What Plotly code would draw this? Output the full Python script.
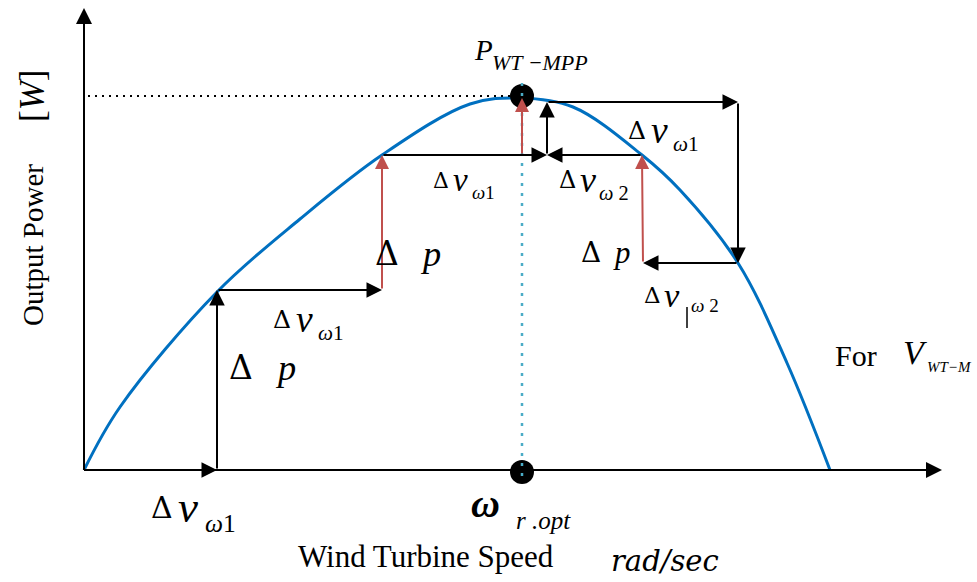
import plotly.graph_objects as go

# ---- data (origin at the axes corner; x = turbine speed, y = output power) ----
speed = [0, 36, 133, 216, 298, 386, 436, 489, 558, 596, 654, 703, 746]
power = [0, 63, 178, 251, 315, 366, 372, 363, 315, 280, 207, 107, 0]

w_opt = 438      # optimal rotor speed
p_mpp = 374      # maximum power point

# perturb & observe steps: (x0, y0) -> (x1, y1)
step_x0 = [133, 0, 133, 298, 298, 558, 438, 463, 463, 654, 654, 559]
step_y0 = [0, 0, 180, 180, 315, 315, 315, 315, 368, 368, 207, 207]
step_x1 = [133, 133, 298, 298, 463, 463, 438, 463, 654, 654, 559, 558]
step_y1 = [180, 0, 180, 315, 315, 315, 372, 368, 368, 207, 207, 315]
step_red = [False, False, False, True, False, False, True, False, False, False, False, True]

x_axis_end = 858
y_axis_end = 462

BLUE = "#0070C0"
RED = "#C0504D"
CYAN = "#4BACC6"
SERIF = "Liberation Serif"
WIDE = "DejaVu Serif"


def X(px):
    return px - 84


def Y(py):
    return 470 - py


fig = go.Figure()

# axes
fig.add_shape(type="line", x0=0, y0=0, x1=0, y1=y_axis_end - 10,
              line=dict(color="black", width=2))
fig.add_shape(type="line", x0=0, y0=0, x1=x_axis_end - 10, y1=0,
              line=dict(color="black", width=2))

# guides
fig.add_shape(type="line", x0=4, y0=p_mpp, x1=w_opt - 10, y1=p_mpp,
              line=dict(color="black", width=2, dash="2px,5px"))
fig.add_shape(type="line", x0=w_opt, y0=-6, x1=w_opt, y1=p_mpp + 13,
              line=dict(color=CYAN, width=2.5, dash="3px,7px"))

# power curve
fig.add_trace(go.Scatter(x=speed, y=power, mode="lines",
                         line=dict(color=BLUE, width=3, shape="spline", smoothing=1.0),
                         hoverinfo="skip", showlegend=False))

# MPP markers
fig.add_trace(go.Scatter(x=[w_opt, w_opt], y=[p_mpp, -2], mode="markers",
                         marker=dict(color="black", size=24),
                         hoverinfo="skip", showlegend=False))

annotations = []

# axis arrowheads
annotations.append(dict(x=0, y=y_axis_end, ax=0, ay=y_axis_end - 30, xref="x", yref="y",
                        axref="x", ayref="y", text="", showarrow=True, arrowhead=2,
                        arrowsize=1.6, arrowwidth=2, arrowcolor="black"))
annotations.append(dict(x=x_axis_end, y=0, ax=x_axis_end - 30, ay=0, xref="x", yref="y",
                        axref="x", ayref="y", text="", showarrow=True, arrowhead=2,
                        arrowsize=1.6, arrowwidth=2, arrowcolor="black"))

# step arrows
for x0, y0, x1, y1, red in zip(step_x0, step_y0, step_x1, step_y1, step_red):
    annotations.append(dict(x=x1, y=y1, ax=x0, ay=y0, xref="x", yref="y",
                            axref="x", ayref="y", text="", showarrow=True,
                            arrowhead=2, arrowsize=1.55 if not red else 1.4,
                            arrowwidth=2, arrowcolor=RED if red else "black"))


def txt(px, py, text, size, italic=False, angle=0, bold=False, family=SERIF):
    t = text
    if italic:
        t = "<i>" + t + "</i>"
    if bold:
        t = "<b>" + t + "</b>"
    annotations.append(dict(x=X(px), y=Y(py), xref="x", yref="y", text=t,
                            showarrow=False, xanchor="center", yanchor="middle",
                            textangle=angle,
                            font=dict(family=family, size=size, color="black")))


def dv(px, py, sub, s):
    # Δ v_sub label; px,py = centre of the Δ glyph, s = Δ size
    txt(px, py, "Δ", s, family=WIDE)
    txt(px + 0.88 * s, py, "v", s * 1.5, italic=True)
    if sub:
        txt(px + 1.95 * s, py + 0.55 * s, sub, s * 0.85)


def dp(px, py, pxp, s):
    txt(px, py, "Δ", s, family=WIDE)
    txt(pxp, py + 1, "p", s * 1.1, italic=True)


# labels
txt(483, 50, "P", 29, italic=True)
txt(540, 62, "WT −MPP", 22, italic=True)
txt(33, 245, "Output Power", 29, angle=-90)
txt(32, 96, "[<i>W</i>]", 35, angle=-90)

dp(241, 367, 285, 33)
dp(387, 253, 430, 33)
dp(591, 252, 621, 28)

dv(162, 507, "<i>ω</i>1", 30)
dv(282, 319, "<i>ω</i>1", 25)
dv(441, 180, "<i>ω</i>1", 22)
dv(567, 180, "<i>ω</i> 2", 24)
dv(637, 130, "<i>ω</i>1", 25)
dv(652, 295, "", 23)
txt(705, 305, "<i>ω</i> 2", 19)
fig.add_shape(type="line", x0=X(687), y0=Y(307), x1=X(687), y1=Y(328),
              line=dict(color="black", width=1.5))

txt(485, 503, "ω", 40, italic=True, bold=True)
txt(543, 520, "r .opt", 25, italic=True)

txt(426, 556, "Wind Turbine Speed", 31)
annotations.append(dict(x=X(665), y=Y(561), xref="x", yref="y", text="<i>rad/sec</i>",
                        showarrow=False, xanchor="center", yanchor="middle",
                        font=dict(family=WIDE, size=29, color="black")))

txt(856, 355, "For", 30)
txt(915, 352, "V", 34, italic=True)
txt(949, 367, "WT−M", 15, italic=True)

fig.update_layout(
    width=977, height=582,
    margin=dict(l=0, r=0, t=0, b=0),
    paper_bgcolor="white", plot_bgcolor="white",
    xaxis=dict(range=[X(0), X(977)], visible=False, fixedrange=True),
    yaxis=dict(range=[Y(582), Y(0)], visible=False, fixedrange=True),
    annotations=annotations,
    showlegend=False,
)

fig.write_html("out.html")
